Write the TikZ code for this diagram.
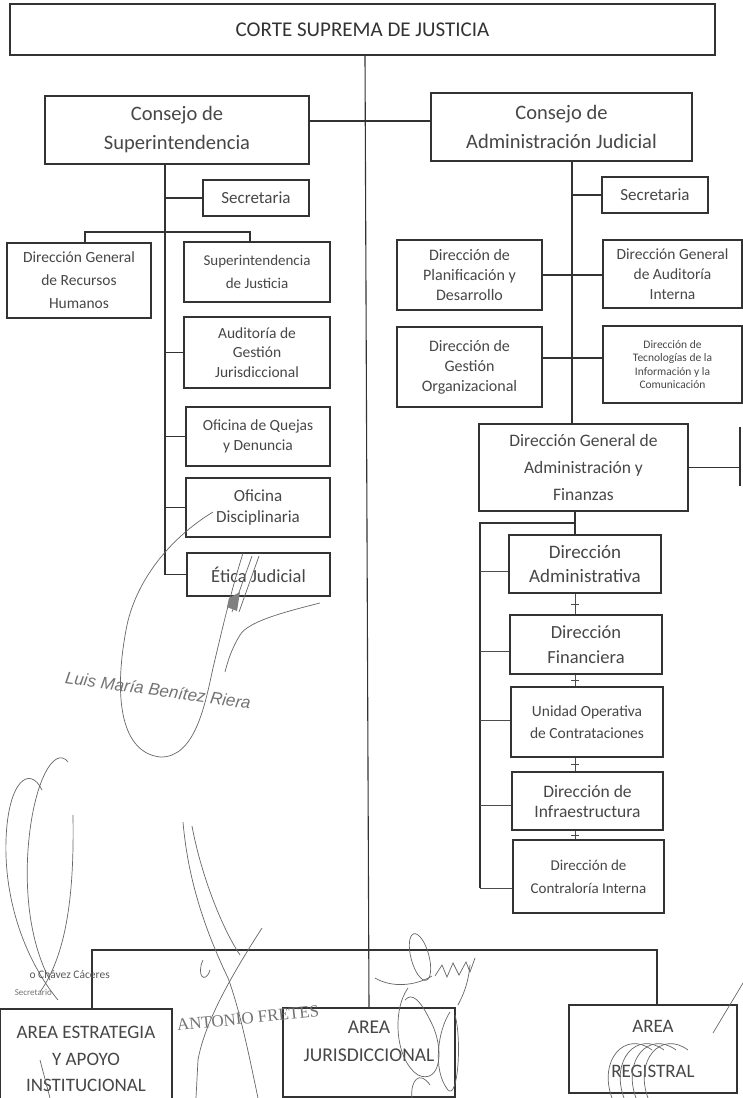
\documentclass[tikz,border=0pt]{standalone}
\usepackage{fontspec}
\setmainfont{Carlito}
\newfontfamily\stampsans{Liberation Sans}
\newfontfamily\stampserif{Liberation Serif}
\usetikzlibrary{calc}
\newcommand\fsz[2]{\fontsize{#1}{#2}\selectfont}
\begin{document}
\begin{tikzpicture}[x=1pt,y=-1pt,
  box/.style={draw=black!80, line width=1.1pt, inner sep=0pt, align=center, text=black!72},
  lbl/.style={inner sep=0pt, align=center, text=black!72},
  conn/.style={draw=black!80, line width=1.1pt},
  stub/.style={draw=black!70, line width=0.8pt},
  ink/.style={draw=black!60, line width=0.7pt},
  stamp/.style={text=black!55, inner sep=0pt}]
\useasboundingbox (0,0) rectangle (743,1098);
\clip (0,0) rectangle (743,1098);
\fill[white] (0,0) rectangle (743,1098);

% ---------- boxes ----------
\node[box, minimum width=705, minimum height=51, font=\fsz{21}{24}, text=black!80] (csj) at (362.5,29.5) {CORTE SUPREMA DE JUSTICIA};
\node[box, minimum width=264, minimum height=68, font=\fsz{20.5}{29}] (cs) at (177,130) {Consejo de\\Superintendencia};
\node[box, minimum width=261, minimum height=68, font=\fsz{20.5}{29}] (caj) at (561.5,127) {Consejo de\\Administración Judicial};

% left column
\node[box, minimum width=106, minimum height=36, font=\fsz{17}{20}] (sec1) at (256,198) {Secretaria};
\node[box, minimum width=144, minimum height=75, font=\fsz{15.5}{23}] (rrhh) at (79,280.5) {Dirección General\\de Recursos\\Humanos};
\node[box, minimum width=146, minimum height=60, font=\fsz{15}{23}] (supj) at (257,272) {Superintendencia\\de Justicia};
\node[box, minimum width=146, minimum height=71, font=\fsz{15.5}{19.5}] (agj) at (257,352.5) {Auditoría de\\Gestión\\Jurisdiccional};
\node[box, minimum width=144, minimum height=59, font=\fsz{15.5}{20}] (oqd) at (258,436.5) {Oficina de Quejas\\y Denuncia};
\node[box, minimum width=144, minimum height=59, font=\fsz{17}{21}] (odis) at (258,507.5) {Oficina\\Disciplinaria};
\node[box, minimum width=143, minimum height=43, font=\fsz{18.5}{21}] (etica) at (258.5,574.5) {Ética Judicial};

% right column
\node[box, minimum width=106, minimum height=36, font=\fsz{17}{20}] (sec2) at (655,195) {Secretaria};
\node[box, minimum width=145, minimum height=70, font=\fsz{16}{20}] (dpd) at (469.5,275) {Dirección de\\Planificación y\\Desarrollo};
\node[box, minimum width=139, minimum height=68, font=\fsz{15.5}{20}] (dgai) at (672.5,274) {Dirección General\\de Auditoría\\Interna};
\node[box, minimum width=145, minimum height=80, font=\fsz{16}{20}] (dgo) at (469.5,367) {Dirección de\\Gestión\\Organizacional};
\node[box, minimum width=139, minimum height=77, font=\fsz{11.5}{13.5}] (dtic) at (672.5,364.5) {Dirección de\\Tecnologías de la\\Información y la\\Comunicación};
\node[box, minimum width=209, minimum height=87, font=\fsz{17.5}{27}] (dgaf) at (583.5,467.5) {Dirección General de\\Administración y\\Finanzas};

\node[box, minimum width=152, minimum height=58, font=\fsz{19}{24}] (dadm) at (585,564) {Dirección\\Administrativa};
\node[box, minimum width=152, minimum height=59, font=\fsz{18.5}{25}] (dfin) at (586,644.5) {Dirección\\Financiera};
\node[box, minimum width=152, minimum height=70, font=\fsz{15.5}{22}] (uoc) at (587,722) {Unidad Operativa\\de Contrataciones};
\node[box, minimum width=151, minimum height=58, font=\fsz{17.5}{20}] (dinf) at (587.5,801) {Dirección de\\Infraestructura};
\node[box, minimum width=151, minimum height=73, font=\fsz{15}{23}] (dci) at (588.5,876.5) {Dirección de\\Contraloría Interna};

% bottom areas
\node[box, minimum width=172, minimum height=100, font=\fsz{19}{26.5}] (aeai) at (86,1059) {AREA ESTRATEGIA\\Y APOYO\\INSTITUCIONAL};
\node[box, minimum width=172, minimum height=89] (ajur) at (369,1052.5) {};
\node[lbl, font=\fsz{19.5}{28}] (ajurt) at (369,1041) {AREA\\JURISDICCIONAL};
\node[box, minimum width=168, minimum height=88, font=\fsz{19}{45}] (areg) at (653,1049) {AREA\\REGISTRAL};

% ---------- connectors ----------
\coordinate (h1) at (0,121);
\draw[conn] (cs.east |- h1) -- (caj.west |- h1);
\coordinate (cx) at (365,0);
\draw[conn] (csj.south -| cx) -- (ajur.north);

% left trunk
\coordinate (lt) at (165,0);
\draw[conn] (cs.south -| lt) -- (lt |- etica.west);
\foreach \n in {sec1,agj,oqd,odis,etica} \draw[conn] (lt |- \n.west) -- (\n.west);
\coordinate (hb1) at (0,232);
\coordinate (dl) at (85,0);
\coordinate (dr) at (250,0);
\draw[conn] (rrhh.north -| dl) -- (dl |- hb1) -- (dr |- hb1) -- (supj.north -| dr);

% right trunk
\coordinate (rt) at (572,0);
\draw[conn] (caj.south -| rt) -- (rt |- dgaf.north);
\draw[conn] (rt |- sec2.west) -- (sec2.west);
\draw[conn] (dpd.east) -- (dgai.west |- dpd.east);
\coordinate (h2) at (0,358);
\draw[conn] (dgo.east |- h2) -- (dtic.west |- h2);
\coordinate (e1) at (740,427);
\coordinate (e2) at (740,486);
\draw[conn] (e1) -- (e2);
\draw[conn] (dgaf.east) -- (e1 |- dgaf.east);

% under DGAF
\coordinate (rc) at (575,0);
\coordinate (h4) at (0,523);
\coordinate (lt2) at (480,0);
\coordinate (s1) at (480,571);
\coordinate (s2) at (480,651);
\coordinate (s3) at (480,720);
\coordinate (s4) at (480,805);
\coordinate (s5) at (480,888);
\draw[conn] (dgaf.south -| rc) -- (dadm.north -| rc);
\draw[conn] (rc |- h4) -- (lt2 |- h4) -- (s5);
\draw[stub] (s1) -- (s1 -| dadm.west);
\draw[stub] (s2) -- (s2 -| dfin.west);
\draw[stub] (s3) -- (s3 -| uoc.west);
\draw[stub] (s4) -- (s4 -| dinf.west);
\draw[stub] (s5) -- (s5 -| dci.west);
\foreach \a/\b in {dadm/dfin, dfin/uoc, uoc/dinf, dinf/dci} {
  \draw[stub] (\a.south -| rc) -- (\b.north -| rc) coordinate[midway] (m\a);
  \draw[stub, line width=0.6pt] ([xshift=-4pt]m\a) -- ([xshift=4pt]m\a);
}

% bottom bar
\coordinate (hb) at (0,950);
\coordinate (bl) at (92,0);
\coordinate (br) at (657,0);
\draw[conn] (aeai.north -| bl) -- (bl |- hb) -- (br |- hb) -- (areg.north -| br);

% ---------- signatures and stamps ----------
\draw[ink] (213,512) .. controls (175,535) and (138,575) .. (127,625) .. controls (114,690) and (118,752) .. (160,757) .. controls (195,758) and (205,705) .. (213,668) .. controls (222,630) and (230,595) .. (243,553);
\draw[ink] (232,612) -- (252,556);
\draw[ink] (239,612) -- (259,556);
\fill[black!50] (229,598) -- (240,592) -- (237,611) -- (227,607) -- cycle;
\draw[ink] (320,603) .. controls (280,613) and (248,622) .. (240,635) .. controls (232,648) and (228,660) .. (225,672);
\node[stamp, font=\stampsans\itshape\fontsize{17}{20}\selectfont, rotate=-8] (lmbr) at (158,690) {Luis María Benítez Riera};

\draw[ink] (42,790) .. controls (30,765) and (8,780) .. (6,840) .. controls (4,900) and (25,960) .. (58,1000);
\draw[ink] (68,762) .. controls (55,745) and (33,780) .. (28,850) .. controls (24,910) and (36,955) .. (50,980);
\draw[ink] (73,815) .. controls (74,880) and (70,950) .. (40,992);
\draw[ink] (40,1060) -- (50,1098);

\draw[ink] (183,822) .. controls (188,880) and (205,930) .. (228,978) .. controls (240,1010) and (250,1060) .. (258,1098);
\draw[ink] (192,826) .. controls (200,870) and (220,925) .. (240,955);
\draw[ink] (262,928) .. controls (235,970) and (205,1020) .. (198,1060) -- (196,1098);
\draw[ink] (203,960) .. controls (196,975) and (205,985) .. (210,970);
\node[stamp, font=\stampserif\fontsize{17}{20}\selectfont, rotate=6] (afr) at (248,1018) {ANTONIO FRETES};
\node[stamp, font=\fsz{11.5}{13}, anchor=east, text=black!65] (chc) at (110,975) {o Chávez Cáceres};
\node[stamp, font=\fsz{9}{11}, anchor=east] (secr) at (52,992) {Secretario};

\draw[ink] (375,978) .. controls (392,988) and (415,986) .. (432,976);
\draw[ink, rotate around={15:(420,957)}] (420,957) ellipse (9 and 24);
\draw[ink] (435,976) -- (442,965) -- (447,977) -- (453,963) -- (459,975) -- (466,962) -- (470,972) -- (475,958);
\draw[ink] (470,965) .. controls (468,985) and (463,995) .. (458,1005);
\draw[ink] (408,988) .. controls (392,1010) and (395,1060) .. (418,1075) .. controls (440,1085) and (446,1050) .. (430,1020) .. controls (420,1000) and (412,992) .. (405,1000);
\draw[ink] (450,1012) .. controls (438,1030) and (432,1070) .. (448,1090) .. controls (458,1100) and (462,1040) .. (455,1015);
\draw[ink] (412,1098) .. controls (410,1080) and (420,1070) .. (430,1085);

\foreach \d in {0,12,24,36}
  \draw[ink] (612+\d,1098) .. controls (598+\d,1060) and (625+\d,1030) .. (652+\d,1050);
\draw[ink] (743,983) -- (713,1033);
\end{tikzpicture}
\end{document}
